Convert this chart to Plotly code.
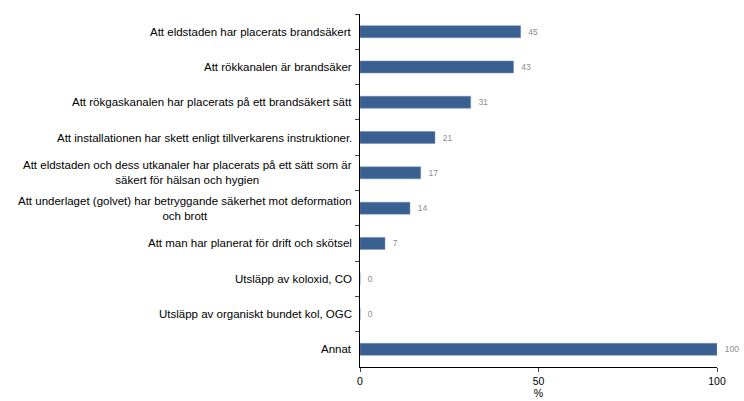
import plotly.graph_objects as go

categories = [
    "Att eldstaden har placerats brandsäkert",
    "Att rökkanalen är brandsäker",
    "Att rökgaskanalen har placerats på ett brandsäkert sätt",
    "Att installationen har skett enligt tillverkarens instruktioner.",
    "Att eldstaden och dess utkanaler har placerats på ett sätt som är<br>säkert för hälsan och hygien",
    "Att underlaget (golvet) har betryggande säkerhet mot deformation<br>och brott",
    "Att man har planerat för drift och skötsel",
    "Utsläpp av koloxid, CO",
    "Utsläpp av organiskt bundet kol, OGC",
    "Annat",
]
values = [45, 43, 31, 21, 17, 14, 7, 0, 0, 100]
x_ticks = [0, 50, 100]

fig = go.Figure()
fig.add_trace(go.Bar(
    x=values, y=categories, orientation="h",
    marker=dict(color="#3a6091", line=dict(color="#6f8fb8", width=0.5)),
    width=0.34,
    text=["  " + str(v) for v in values], textposition="outside",
    textfont=dict(family="Liberation Sans, Arial, sans-serif", size=8.5, color="#8c8c8c"),
    cliponaxis=False,
))

for c in categories:
    fig.add_annotation(
        x=0, xref="paper", y=c, yref="y", text=c, showarrow=False,
        xanchor="right", xshift=-6, align="center",
        font=dict(family="Liberation Sans, Arial, sans-serif", size=11.5, color="#000000"),
    )

fig.update_layout(
    width=744, height=401,
    margin=dict(l=360, r=27, t=14, b=34, autoexpand=False),
    paper_bgcolor="white", plot_bgcolor="white",
    showlegend=False,
    font=dict(family="Liberation Sans, Arial, sans-serif", size=10, color="#000000"),
    xaxis=dict(
        range=[0, 100], tickvals=x_ticks, ticks="outside", ticklen=4,
        showline=True, linecolor="#000000", linewidth=1, showgrid=False,
        zeroline=False, tickfont=dict(size=10.5), automargin=False,
        title=dict(text="%", standoff=4, font=dict(size=10.5)),
    ),
    yaxis=dict(
        type="category", autorange="reversed", showticklabels=False,
        ticks="outside", ticklen=4, tickson="boundaries", automargin=False,
        showline=True, linecolor="#000000", linewidth=1, showgrid=False,
    ),
)

fig.write_html(
    "out.html",
    config={"displayModeBar": False},
    post_script="document.body.style.margin='0';document.body.style.overflow='hidden';",
)
